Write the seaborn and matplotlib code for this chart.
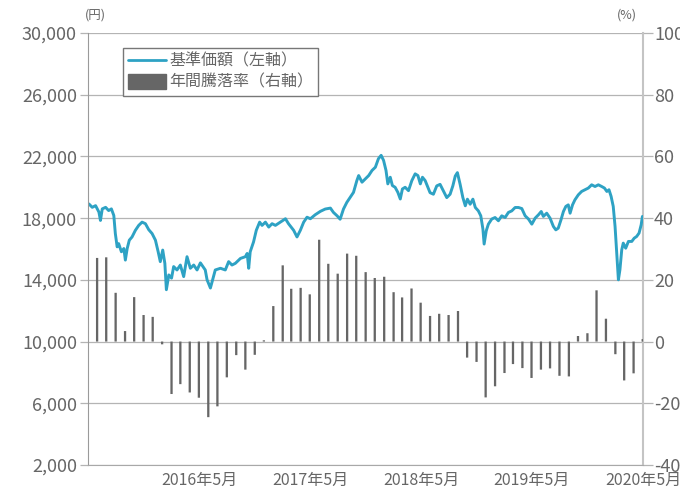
import pandas as pd
import matplotlib
matplotlib.use("Agg")
import matplotlib.pyplot as plt
import seaborn as sns
from matplotlib.lines import Line2D
from matplotlib.patches import Patch

# 基準価額 (円)
NAV_DATES = [
    "2015-05-04", "2015-05-15", "2015-05-26", "2015-06-06", "2015-06-11", "2015-06-17",
    "2015-06-28", "2015-07-08", "2015-07-17", "2015-07-25", "2015-07-30", "2015-08-05",
    "2015-08-10", "2015-08-19", "2015-08-27", "2015-09-01", "2015-09-07", "2015-09-14",
    "2015-09-23", "2015-10-04", "2015-10-15", "2015-10-26", "2015-11-06", "2015-11-17",
    "2015-11-28", "2015-12-09", "2015-12-18", "2015-12-25", "2016-01-02", "2016-01-09",
    "2016-01-14", "2016-01-22", "2016-01-31", "2016-02-07", "2016-02-18", "2016-02-29",
    "2016-03-11", "2016-03-22", "2016-04-02", "2016-04-13", "2016-04-24", "2016-05-05",
    "2016-05-21", "2016-05-27", "2016-06-07", "2016-06-23", "2016-07-10", "2016-07-26",
    "2016-08-06", "2016-08-17", "2016-08-28", "2016-09-14", "2016-09-30", "2016-10-06",
    "2016-10-11", "2016-10-16", "2016-10-27", "2016-11-05", "2016-11-16", "2016-11-24",
    "2016-12-05", "2016-12-16", "2016-12-27", "2017-01-07", "2017-01-23", "2017-02-09",
    "2017-02-19", "2017-03-08", "2017-03-19", "2017-03-30", "2017-04-10", "2017-04-21",
    "2017-05-02", "2017-05-18", "2017-06-04", "2017-06-20", "2017-07-07", "2017-07-17",
    "2017-07-29", "2017-08-08", "2017-08-19", "2017-08-30", "2017-09-10", "2017-09-21",
    "2017-10-02", "2017-10-08", "2017-10-19", "2017-10-30", "2017-11-10", "2017-11-21",
    "2017-12-02", "2017-12-12", "2017-12-21", "2017-12-29", "2018-01-06", "2018-01-12",
    "2018-01-20", "2018-01-27", "2018-02-05", "2018-02-14", "2018-02-22", "2018-03-01",
    "2018-03-10", "2018-03-21", "2018-04-01", "2018-04-12", "2018-04-21", "2018-04-29",
    "2018-05-06", "2018-05-15", "2018-05-24", "2018-05-31", "2018-06-11", "2018-06-22",
    "2018-07-03", "2018-07-14", "2018-07-25", "2018-08-05", "2018-08-14", "2018-08-22",
    "2018-08-29", "2018-09-07", "2018-09-16", "2018-09-24", "2018-10-01", "2018-10-10",
    "2018-10-19", "2018-10-27", "2018-11-06", "2018-11-14", "2018-11-21", "2018-11-25",
    "2018-12-02", "2018-12-09", "2018-12-20", "2018-12-31", "2019-01-11", "2019-01-22",
    "2019-02-02", "2019-02-13", "2019-02-24", "2019-03-07", "2019-03-18", "2019-03-29",
    "2019-04-09", "2019-04-20", "2019-05-01", "2019-05-12", "2019-05-23", "2019-06-01",
    "2019-06-08", "2019-06-19", "2019-06-30", "2019-07-11", "2019-07-19", "2019-07-27",
    "2019-08-05", "2019-08-13", "2019-08-21", "2019-08-29", "2019-09-04", "2019-09-12",
    "2019-09-20", "2019-10-01", "2019-10-12", "2019-10-23", "2019-11-03", "2019-11-14",
    "2019-11-25", "2019-12-06", "2019-12-17", "2019-12-26", "2020-01-03", "2020-01-10",
    "2020-01-17", "2020-01-24", "2020-01-30", "2020-02-05", "2020-02-10", "2020-02-15",
    "2020-02-21", "2020-02-26", "2020-03-05", "2020-03-14", "2020-03-25", "2020-04-02",
    "2020-04-10", "2020-04-18", "2020-04-25", "2020-04-29",
]
NAV_VALUES = [
    18920, 18700, 18810, 18390, 17850, 18600,
    18700, 18490, 18600, 18170, 17000, 16140,
    16350, 15820, 16030, 15280, 16030, 16570,
    16780, 17210, 17530, 17740, 17640, 17250,
    17000, 16570, 15820, 15180, 15930, 15070,
    13360, 14320, 14110, 14860, 14640, 14960,
    14210, 15500, 14750, 14960, 14640, 15100,
    14640, 14000, 13470, 14640, 14750, 14640,
    15180, 14960, 15070, 15390, 15500, 15710,
    14750, 15820, 16460, 17210, 17740, 17530,
    17740, 17420, 17640, 17530, 17740, 17960,
    17640, 17210, 16780, 17210, 17740, 18060,
    17960, 18220, 18440, 18590, 18650, 18370,
    18150, 17930, 18590, 19020, 19350, 19670,
    20430, 20760, 20330, 20540, 20760, 21090,
    21300, 21850, 22070, 21740, 21090, 20220,
    20650, 20110, 20000, 19670, 19240, 19890,
    20000, 19780, 20430, 20870, 20760, 20220,
    20650, 20430, 20000, 19650, 19550, 20090,
    20190, 19760, 19330, 19550, 20090, 20730,
    20950, 20190, 19330, 18800, 19230, 18900,
    19230, 18690, 18470, 18150, 17290, 16320,
    17180, 17610, 17940, 18040, 17830, 18150,
    18040, 18370, 18470, 18690, 18690, 18620,
    18150, 17940, 17610, 18000, 18220, 18430,
    18110, 18320, 18000, 17460, 17240, 17350,
    17890, 18430, 18760, 18860, 18320, 18860,
    19190, 19510, 19730, 19840, 19950, 20160,
    20050, 20160, 20050, 19950, 19730, 19840,
    19410, 18760, 17460, 15510, 14000, 14650,
    15950, 16380, 16050, 16490, 16490, 16700,
    16810, 17030, 17570, 18110,
]

# 年間騰落率 (%), monthly from 2015年5月 to 2020年4月
BAR_START = "2015-05-31"
BAR_VALUES = [
    27.1, 27.3, 15.8, 3.4, 14.4, 8.6, 8.0, -0.9, -17.0, -13.8,
    -16.5, -18.2, -24.5, -21.0, -11.6, -4.4, -9.1, -4.3, 0.4, 11.5,
    24.7, 17.1, 17.4, 15.3, 33.0, 25.2, 22.0, 28.5, 27.8, 22.5,
    20.6, 21.0, 16.0, 14.3, 17.2, 12.6, 8.3, 9.0, 8.6, 9.9,
    -5.2, -6.6, -18.1, -14.5, -10.2, -7.3, -8.6, -11.8, -9.1, -8.7,
    -11.1, -11.3, 1.8, 2.7, 16.6, 7.4, -4.1, -12.6, -10.3, 0.8,
]

LEFT_TICKS = [2000, 6000, 10000, 14000, 18000, 22000, 26000, 30000]
RIGHT_TICKS = [-40, -20, 0, 20, 40, 60, 80, 100]
X_TICKS = ["2016-05-01", "2017-05-01", "2018-05-01", "2019-05-01", "2020-05-01"]
X_LABELS = ["2016年5月", "2017年5月", "2018年5月", "2019年5月", "2020年5月"]
X_RANGE = ["2015-05-01", "2020-05-01"]

LINE_COLOR = "#2ea2c4"
BAR_COLOR = "#666666"
TEXT_COLOR = "#666666"
GRID_COLOR = "#b4b4b4"

sns.set_style("white")
plt.rcParams["font.family"] = ["Noto Sans CJK JP", "DejaVu Sans"]

nav = pd.DataFrame({"date": pd.to_datetime(NAV_DATES), "nav": NAV_VALUES})
rate = pd.DataFrame({
    "month": pd.date_range(BAR_START, periods=len(BAR_VALUES), freq="ME"),
    "rate": BAR_VALUES,
})

fig = plt.figure(figsize=(6.8, 4.91), dpi=100)
ax = fig.add_axes([0.1294, 0.053, 0.8162, 0.8798])
ax2 = ax.twinx()

# bars on the right axis, kept behind the line
ax2.bar(rate["month"], rate["rate"], width=7.5, color=BAR_COLOR, lw=0,
        snap=False, zorder=3)
ax2.set_ylim(-40, 100)
ax2.set_yticks(RIGHT_TICKS)
ax2.set_yticklabels([str(v) for v in RIGHT_TICKS])
ax2.grid(axis="y", color=GRID_COLOR, lw=0.9)
ax2.set_axisbelow(True)

sns.lineplot(data=nav, x="date", y="nav", ax=ax, color=LINE_COLOR, lw=2.1)
ax.set_zorder(ax2.get_zorder() + 1)
ax.patch.set_visible(False)

ax.set_ylim(2000, 30000)
ax.set_yticks(LEFT_TICKS)
ax.set_yticklabels([f"{v:,}" for v in LEFT_TICKS])
ax.set_xlim(pd.to_datetime(X_RANGE[0]), pd.to_datetime(X_RANGE[1]))
ax.set_xticks(pd.to_datetime(X_TICKS))
ax.set_xticklabels(X_LABELS)
ax.set_xlabel("")
ax.set_ylabel("")
ax2.set_ylabel("")

for s in ["top", "right"]:
    ax.spines[s].set_visible(False)
for s in ["top", "left", "bottom"]:
    ax2.spines[s].set_visible(False)
ax.spines["left"].set_color("#9a9a9a")
ax.spines["bottom"].set_color("#a8a8a8")
ax2.spines["right"].set_color("#c4c4c4")
ax2.spines["right"].set_linewidth(1.5)

ax.tick_params(axis="y", length=6, width=0.9, color=GRID_COLOR, pad=2,
               labelsize=13, labelcolor=TEXT_COLOR)
ax2.tick_params(axis="y", length=7, width=0.9, color=GRID_COLOR, pad=1,
                labelsize=13, labelcolor=TEXT_COLOR)
ax.tick_params(axis="x", length=3, width=0.9, color=GRID_COLOR, pad=2,
               labelsize=11.5, labelcolor=TEXT_COLOR)

fig.text(0.125, 0.969, "(円)", fontsize=9, color=TEXT_COLOR, ha="left", va="center")
fig.text(0.922, 0.969, "(%)", fontsize=9, color=TEXT_COLOR, ha="center", va="center")

handles = [Line2D([], [], color=LINE_COLOR, lw=2), Patch(color=BAR_COLOR)]
labels = ["基準価額（左軸）", "年間騰落率（右軸）"]
leg = ax.legend(handles, labels, loc="upper left", bbox_to_anchor=(0.063, 0.965),
                frameon=True, fancybox=False, edgecolor="#777777", framealpha=1,
                fontsize=11.5, handlelength=2.4, handleheight=1.0, borderpad=0.3,
                labelspacing=0.25, handletextpad=0.2, borderaxespad=0)
leg.get_frame().set_linewidth(1.0)
for t in leg.get_texts():
    t.set_color(TEXT_COLOR)

fig.savefig("out.png", dpi=100)
